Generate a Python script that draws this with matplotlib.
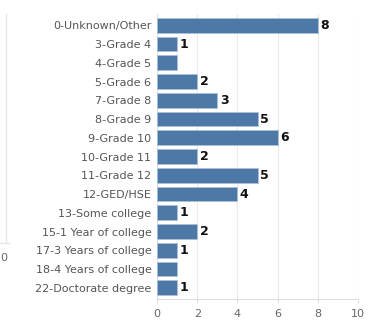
import matplotlib
matplotlib.use("Agg")
import matplotlib.pyplot as plt
from matplotlib.lines import Line2D

categories = ["0-Unknown/Other", "3-Grade 4", "4-Grade 5", "5-Grade 6", "7-Grade 8",
              "8-Grade 9", "9-Grade 10", "10-Grade 11", "11-Grade 12", "12-GED/HSE",
              "13-Some college", "15-1 Year of college", "17-3 Years of college",
              "18-4 Years of college", "22-Doctorate degree"]
values = [8, 1, 1, 2, 3, 5, 6, 2, 5, 4, 1, 2, 1, 1, 1]
show_label = [True, True, False, True, True, True, True, True, True, True,
              True, True, True, False, True]
xticks = [0, 2, 4, 6, 8, 10]

W, H = 374, 322
fig = plt.figure(figsize=(W / 100, H / 100), dpi=100)
fig.patch.set_facecolor("white")
ax = fig.add_axes([157 / W, 1 - 299 / H, 201 / W, (299 - 14) / H])

y = list(range(len(categories)))
ax.barh(y, values, height=0.78, color="#4e79a7", edgecolor="#a9c0d9", linewidth=0.6, zorder=3)
for yi, v, s in zip(y, values, show_label):
    if s:
        ax.text(v + 0.12, yi, str(v), va="center", ha="left", fontsize=9,
                color="#111111", fontweight="bold")

ax.set_xlim(0, 10)
ax.set_ylim(len(categories) - 0.4, -0.6)
ax.set_yticks(y)
ax.set_yticklabels(categories, fontsize=8, color="#555555")
ax.set_xticks(xticks)
ax.set_xticklabels([str(t) for t in xticks], fontsize=8, color="#666666")
ax.tick_params(axis="y", length=0, pad=4)
ax.tick_params(axis="x", length=3, color="#dddddd", pad=4)
ax.grid(axis="x", color="#eaeaea", linewidth=0.9, zorder=0)
for side in ["top", "right"]:
    ax.spines[side].set_visible(False)
ax.spines["left"].set_color("#e0e0e0")
ax.spines["bottom"].set_color("#dddddd")

# remnant of an adjacent view at the far left edge
fig.add_artist(Line2D([6 / W, 6 / W], [1 - 14 / H, 1 - 243 / H], color="#e6e6e6", linewidth=0.9))
fig.add_artist(Line2D([0, 9 / W], [1 - 243 / H, 1 - 243 / H], color="#e6e6e6", linewidth=0.9))
fig.text(0.5 / W, 1 - 258 / H, "0", fontsize=8, color="#666666", va="center", ha="left")

fig.savefig("out.png", dpi=100, facecolor="white")
